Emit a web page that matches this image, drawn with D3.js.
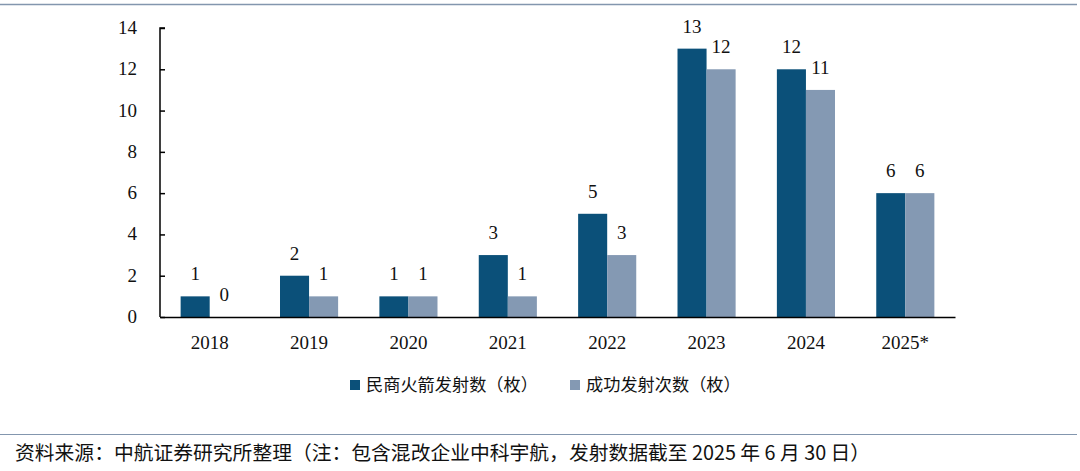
<!DOCTYPE html>
<html>
<head>
<meta charset="utf-8">
<script src="https://cdn.jsdelivr.net/npm/d3@7"></script>
<style>
  body { margin: 0; background: #fff; }
  svg text { font-family: "Liberation Serif", "Noto Sans CJK SC", serif; fill: #111; }
  .cjk { font-family: "Noto Sans CJK SC", sans-serif; }
</style>
</head>
<body>
<div id="chart"></div>
<script>
var years = ["2018", "2019", "2020", "2021", "2022", "2023", "2024", "2025*"];
var launches = [1, 2, 1, 3, 5, 13, 12, 6];
var successes = [0, 1, 1, 1, 3, 12, 11, 6];
var seriesNames = ["民商火箭发射数（枚）", "成功发射次数（枚）"];
var yTicks = [0, 2, 4, 6, 8, 10, 12, 14];
var sourceText = "资料来源：中航证券研究所整理（注：包含混改企业中科宇航，发射数据截至 2025 年 6 月 30 日）";

var W = 1080, H = 471;
var colors = ["#0b5079", "#8499b3"];
var margin = {left: 160, right: 125, top: 28, bottom: 154};

var svg = d3.select("#chart").append("svg")
  .attr("width", W)
  .attr("height", H);

// frame lines top and bottom
svg.append("line")
  .attr("x1", 0).attr("x2", 1077).attr("y1", 4.5).attr("y2", 4.5)
  .attr("stroke", "#8396ae").attr("stroke-width", 1.5);
svg.append("line")
  .attr("x1", 0).attr("x2", 1077).attr("y1", 434.5).attr("y2", 434.5)
  .attr("stroke", "#8396ae").attr("stroke-width", 1.2);

var x = d3.scaleBand()
  .domain(years)
  .range([margin.left, W - margin.right]);

var x1 = d3.scaleBand()
  .domain([0, 1])
  .range([0, x.bandwidth()])
  .paddingOuter(0.71)
  .paddingInner(0);

var y = d3.scaleLinear()
  .domain([0, 14])
  .range([H - margin.bottom, margin.top]);

var data = years.map(function(d, i){ return {year: d, vals: [launches[i], successes[i]]}; });

var groups = svg.selectAll("g.year")
  .data(data)
  .enter().append("g")
  .attr("class", "year")
  .attr("transform", function(d){ return "translate(" + x(d.year) + ",0)"; });

groups.selectAll("rect")
  .data(function(d){ return d.vals; })
  .enter().append("rect")
  .attr("x", function(d, i){ return x1(i); })
  .attr("y", function(d){ return y(d); })
  .attr("width", x1.bandwidth())
  .attr("height", function(d){ return y(0) - y(d); })
  .attr("fill", function(d, i){ return colors[i]; });

groups.selectAll("text")
  .data(function(d){ return d.vals; })
  .enter().append("text")
  .attr("x", function(d, i){ return x1(i) + x1.bandwidth() / 2; })
  .attr("y", function(d){ return y(d) - 16; })
  .attr("text-anchor", "middle")
  .attr("font-size", "19px")
  .text(function(d){ return d; });

// y axis
var yAxis = d3.axisRight(y)
  .tickValues(yTicks)
  .tickSize(5)
  .tickFormat("");
var gy = svg.append("g")
  .attr("transform", "translate(" + margin.left + ",0)")
  .call(yAxis);
gy.select(".domain").attr("stroke", "#000").attr("stroke-width", 1.5)
  .attr("d", "M5," + y(14) + "H0V" + y(0));
gy.selectAll(".tick line").attr("stroke", "#000").attr("stroke-width", 1.5);

svg.selectAll("text.ylab")
  .data(yTicks)
  .enter().append("text")
  .attr("class", "ylab")
  .attr("x", 137)
  .attr("y", function(d){ return y(d) + 6; })
  .attr("text-anchor", "end")
  .attr("font-size", "19px")
  .text(function(d){ return d; });

// x axis
var xAxis = d3.axisBottom(x).tickSize(0).tickPadding(19);
var gx = svg.append("g")
  .attr("transform", "translate(0," + y(0) + ")")
  .call(xAxis);
gx.select(".domain").attr("stroke", "#000").attr("stroke-width", 1.5);
gx.selectAll(".tick text")
  .attr("font-size", "19px")
  .attr("font-family", "Liberation Serif")
  .attr("fill", "#111");

// legend
var legendX = [350, 570];
var legend = svg.selectAll("g.legend")
  .data(seriesNames)
  .enter().append("g")
  .attr("class", "legend")
  .attr("transform", function(d, i){ return "translate(" + legendX[i] + ",380)"; });
legend.append("rect")
  .attr("width", 10).attr("height", 10)
  .attr("fill", function(d, i){ return colors[i]; });
legend.append("text")
  .attr("class", "cjk")
  .attr("x", 16).attr("y", 11)
  .attr("font-size", "17.2px")
  .text(function(d){ return d; });

// source
svg.append("text")
  .attr("class", "cjk")
  .attr("x", 15).attr("y", 460)
  .attr("font-size", "19.8px")
  .text(sourceText);
</script>
</body>
</html>
